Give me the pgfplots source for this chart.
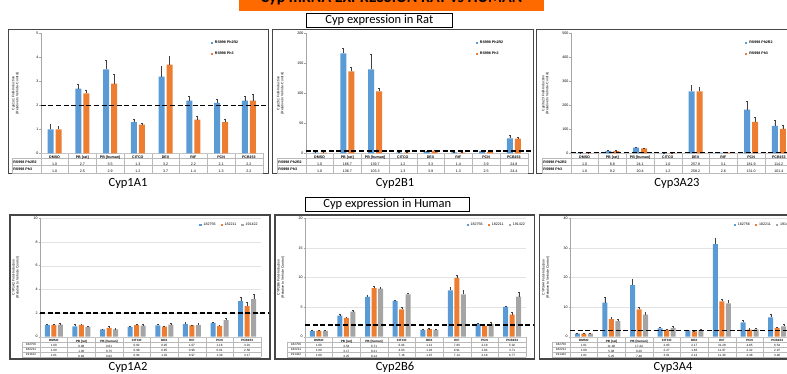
\documentclass[border=0pt]{standalone}
\usepackage{pgfplots}
\pgfplotsset{compat=1.18}
\usepackage{fontspec}
\setmainfont{Carlito}
\newfontfamily\arf{Liberation Sans}
\definecolor{cb}{HTML}{5B9BD5}
\definecolor{co}{HTML}{ED7D31}
\definecolor{cg}{HTML}{A5A5A5}
\definecolor{banner}{HTML}{FF6A00}
\newcommand\tickf{\arf\fontsize{3.6}{4.2}\selectfont}
\newcommand\tabf{\arf\fontsize{3.6}{7}\selectfont}
\newcommand\btabf{\arf\fontsize{3.1}{5}\selectfont}
\newcommand\labf{\arf\fontsize{3.4}{4.2}\selectfont}
\tikzset{dl/.style={black, line width=1.3pt, dash pattern=on 5pt off 2.6pt}}
\pgfplotsset{
 sq/.style={legend image code/.code={\fill[##1] (0pt,-1.1pt) rectangle (2.2pt,1.1pt);}},
 base/.style={scale only axis, anchor=south west, xmin=-0.5, xmax=7.5, ymin=0,
   enlargelimits=false, clip=false,
   axis x line*=bottom, axis y line*=left, axis line style={-},
   x axis line style={draw=gray!45, line width=0.3pt},
   y axis line style={draw=gray!70, line width=0.4pt},
   xtick={0,...,7}, xtick style={draw=none},
   ytick style={draw=gray!70, line width=0.4pt}, tick align=outside, major tick length=1.5pt,
   yticklabel style={font=\tickf, inner sep=0.6pt},
   /pgf/number format/assume math mode=true,
   ylabel style={font=\labf, align=center, anchor=south},
   legend style={draw=none, fill=none, font=\tickf, anchor=north west, inner sep=0pt,
     legend cell align=left},
 },
 rat/.style={base, width=222pt, height=120pt, bar width=6pt, ybar,
   xticklabel style={font=\tabf, align=center, inner sep=0pt, anchor=north, yshift=-1pt},
   ylabel style={at={(axis description cs:-0.081,0.5)}},
   legend style={at={(0.765,0.955)}, row sep=2.6pt}},
 hum/.style={base, width=221pt, height=118.4pt, bar width=5pt, ybar,
   ymajorgrids, grid style={gray!22, line width=0.3pt},
   xticklabel style={font=\btabf, align=center, inner sep=0pt, anchor=north, yshift=-1.4pt},
   ylabel style={at={(axis description cs:-0.077,0.5)}},
   legend columns=3,
   legend style={/tikz/every even column/.append style={column sep=3pt}}},
 eb/.style={error bars/.cd, y dir=plus, y explicit,
   error bar style={line width=0.35pt, black!75},
   error mark options={rotate=90, mark size=0.9pt, black!75, line width=0.35pt}},
}
\newcommand\rattable[1]{%
 \begin{scope}[x=1pt,y=-1pt]
  \draw[gray!55, line width=0.3pt] (#1-28.5,158.3) -- (#1+222,158.3)
     (#1-28.5,165.6) -- (#1+222,165.6) (#1-28.5,172.7) -- (#1+222,172.7)
     (#1-28.5,158.3) -- (#1-28.5,172.7);
  \foreach \j in {0,...,8} \draw[gray!55, line width=0.3pt] ({#1+\j*27.75},153.3) -- ({#1+\j*27.75},172.7);
  \node[anchor=west, font=\tabf, inner sep=0pt] at (#1-27.5,162.1) {\textbf{RS998 Ph2R2}};
  \node[anchor=west, font=\tabf, inner sep=0pt] at (#1-27.5,169.2) {\textbf{RS998 Ph3}};
 \end{scope}}
\newcommand\humtable[1]{%
 \begin{scope}[x=1pt,y=-1pt]
  \draw[gray!55, line width=0.3pt] (#1-18,341.7) -- (#1+221,341.7)
     (#1-18,346.7) -- (#1+221,346.7) (#1-18,351.7) -- (#1+221,351.7)
     (#1-18,356.7) -- (#1+221,356.7) (#1-18,341.7) -- (#1-18,356.7);
  \foreach \j in {0,...,8} \draw[gray!55, line width=0.3pt] ({#1+\j*27.625},336.7) -- ({#1+\j*27.625},356.7);
  \node[font=\btabf, inner sep=0pt] at (#1-9,344.2) {182756};
  \node[font=\btabf, inner sep=0pt] at (#1-9,349.2) {182211};
  \node[font=\btabf, inner sep=0pt] at (#1-9,354.2) {191422};
 \end{scope}}
\begin{document}
\begin{tikzpicture}
\useasboundingbox (0pt,0pt) rectangle (787pt,-374pt);
% ---------- decorations ----------
\begin{scope}[x=1pt,y=-1pt]
 \begin{scope}
  \clip (0,0) rectangle (787,374);
  \fill[banner] (239,-12) rectangle (544,10.7);
  \node[anchor=base, font=\bfseries\fontsize{16}{18}\selectfont, inner sep=0pt] at (391.5,2.6) {Cyp mRNA EXPRESSION RAT vs HUMAN};
 \end{scope}
 \draw[line width=0.8pt] (306,13.3) rectangle (452.7,27.3);
 \node[font=\fontsize{12.5}{14}\selectfont] at (379.3,20.1) {Cyp expression in Rat};
 \draw[line width=0.8pt] (305.7,197.3) rectangle (469,211);
 \node[font=\fontsize{12.5}{14}\selectfont] at (387.3,204) {Cyp expression in Human};
 \draw[line width=1.2pt, gray!55!black] (8.5,29.5) rectangle (268.5,173.5);
 \draw[line width=1.2pt, gray!55!black] (272.5,29.5) rectangle (533.5,173.5);
 \draw[line width=1.2pt, gray!55!black] (536.5,29.5) rectangle (800,173.5);
 \draw[line width=1.2pt, gray!55!black] (10,215) rectangle (270,359);
 \draw[line width=1.2pt, gray!55!black] (275,215) rectangle (534.5,359);
 \draw[line width=1.2pt, gray!55!black] (539.5,215) rectangle (800,359);
 \node[font=\fontsize{12.5}{14}\selectfont] at (128,183) {Cyp1A1};
 \node[font=\fontsize{12.5}{14}\selectfont] at (395,183) {Cyp2B1};
 \node[font=\fontsize{12.5}{14}\selectfont] at (677,183) {Cyp3A23};
 \node[font=\fontsize{12.5}{14}\selectfont] at (128,367.5) {Cyp1A2};
 \node[font=\fontsize{12.5}{14}\selectfont] at (395,367.5) {Cyp2B6};
 \node[font=\fontsize{12.5}{14}\selectfont] at (673,367.5) {Cyp3A4};
\end{scope}
\rattable{40.7}\rattable{305.7}\rattable{570.7}
\humtable{40}\humtable{305}\humtable{570}
% ---------- Cyp1A1 ----------
\begin{axis}[rat, at={(40.7pt,-153.3pt)}, ymax=5, ytick={0,1,2,3,4,5},
  ylabel={Cyp1a1 Fold-Induction\\(Relative to Vehicle-Control)},
  xticklabels={{\textbf{DMSO}\\1.0\\1.0},{\textbf{PB [rat]}\\2.7\\2.5},{\textbf{PB [human]}\\3.5\\2.9},{\textbf{CITCO}\\1.3\\1.2},{\textbf{DEX}\\3.2\\3.7},{\textbf{RIF}\\2.2\\1.4},{\textbf{PCN}\\2.1\\1.3},{\textbf{PCB153}\\2.2\\2.2}}]
\addplot[fill=cb, draw=none, forget plot, bar shift=-4pt, eb] coordinates {(0,1.0)+-(0,0.21) (1,2.7)+-(0,0.18) (2,3.5)+-(0,0.39) (3,1.3)+-(0,0.14) (4,3.2)+-(0,0.41) (5,2.2)+-(0,0.18) (6,2.1)+-(0,0.16) (7,2.2)+-(0,0.2)};
\addplot[fill=co, draw=none, forget plot, bar shift=4pt, eb] coordinates {(0,1.0)+-(0,0.12) (1,2.5)+-(0,0.15) (2,2.9)+-(0,0.38) (3,1.2)+-(0,0.04) (4,3.7)+-(0,0.33) (5,1.4)+-(0,0.14) (6,1.3)+-(0,0.14) (7,2.2)+-(0,0.28)};
\addlegendimage{sq, fill=cb, draw=none}\addlegendentry{\textbf{RS998 Ph2R2}}
\addlegendimage{sq, fill=co, draw=none}\addlegendentry{\textbf{RS998 Ph3}}
\draw[dl] (axis cs:-0.5,2) -- ([xshift=6pt]axis cs:7.5,2);
\end{axis}
% ---------- Cyp2B1 ----------
\begin{axis}[rat, at={(305.7pt,-153.3pt)}, ymax=200, ytick={0,50,100,150,200},
  ylabel={Cyp2b1 Fold-Induction\\(Relative to Vehicle-Control)},
  xticklabels={{\textbf{DMSO}\\1.0\\1.0},{\textbf{PB [rat]}\\166.7\\136.7},{\textbf{PB [human]}\\139.7\\103.3},{\textbf{CITCO}\\1.2\\1.3},{\textbf{DEX}\\3.3\\3.9},{\textbf{RIF}\\1.4\\1.3},{\textbf{PCN}\\3.9\\2.5},{\textbf{PCB153}\\24.8\\24.4}}]
\addplot[fill=cb, draw=none, forget plot, bar shift=-4pt, eb] coordinates {(0,1.0)+-(0,0.5) (1,166.7)+-(0,8) (2,139.7)+-(0,25) (3,1.2)+-(0,0.5) (4,3.3)+-(0,1) (5,1.4)+-(0,0.5) (6,3.9)+-(0,2) (7,24.8)+-(0,6)};
\addplot[fill=co, draw=none, forget plot, bar shift=4pt, eb] coordinates {(0,1.0)+-(0,0.5) (1,136.7)+-(0,7) (2,103.3)+-(0,6) (3,1.3)+-(0,0.5) (4,3.9)+-(0,1) (5,1.3)+-(0,0.5) (6,2.5)+-(0,1) (7,24.4)+-(0,3)};
\addlegendimage{sq, fill=cb, draw=none}\addlegendentry{\textbf{RS998 Ph2R2}}
\addlegendimage{sq, fill=co, draw=none}\addlegendentry{\textbf{RS998 Ph3}}
\draw[dl] (axis cs:-0.5,4) -- ([xshift=6pt]axis cs:7.5,4);
\end{axis}
% ---------- Cyp3A23 ----------
\begin{axis}[rat, at={(570.7pt,-153.3pt)}, ymax=500, ytick={0,100,200,300,400,500},
  ylabel={Cyp3a23 Fold-Induction\\(Relative to Vehicle-Control)},
  legend style={at={(0.785,0.955)}},
  xticklabels={{\textbf{DMSO}\\1.0\\1.0},{\textbf{PB [rat]}\\8.8\\9.2},{\textbf{PB [human]}\\24.1\\20.4},{\textbf{CITCO}\\1.0\\1.2},{\textbf{DEX}\\257.8\\258.2},{\textbf{RIF}\\3.1\\2.6},{\textbf{PCN}\\181.9\\131.0},{\textbf{PCB153}\\114.2\\101.4}}]
\addplot[fill=cb, draw=none, forget plot, bar shift=-4pt, eb] coordinates {(0,1.0)+-(0,0.5) (1,8.8)+-(0,3) (2,24.1)+-(0,3) (3,1.0)+-(0,0.5) (4,257.8)+-(0,27) (5,3.1)+-(0,1) (6,181.9)+-(0,36) (7,114.2)+-(0,22)};
\addplot[fill=co, draw=none, forget plot, bar shift=4pt, eb] coordinates {(0,1.0)+-(0,0.5) (1,9.2)+-(0,2) (2,20.4)+-(0,3) (3,1.2)+-(0,0.5) (4,258.2)+-(0,17) (5,2.6)+-(0,1) (6,131.0)+-(0,19) (7,101.4)+-(0,14)};
\addlegendimage{sq, fill=cb, draw=none}\addlegendentry{\textbf{RS998 Ph2R2}}
\addlegendimage{sq, fill=co, draw=none}\addlegendentry{\textbf{RS998 Ph3}}
\draw[dl] (axis cs:-0.5,2) -- ([xshift=6pt]axis cs:7.5,2);
\end{axis}
% ---------- Cyp1A2 ----------
\begin{axis}[hum, at={(40pt,-336.7pt)}, ymax=10, ytick={0,2,4,6,8,10},
  ylabel={CYP1A2 Fold-Induction\\(Relative to Vehicle Control)},
  legend style={at={(0.72,0.978)}},
  xticklabels={{\textbf{DMSO}\\1.00\\1.00\\1.01},{\textbf{PB [rat]}\\0.88\\1.00\\0.82},{\textbf{PB [human]}\\0.61\\0.75\\0.62},{\textbf{CITCO}\\0.82\\0.98\\0.94},{\textbf{DEX}\\0.95\\0.85\\1.02},{\textbf{RIF}\\1.07\\0.96\\0.97},{\textbf{PCN}\\1.16\\0.91\\1.39},{\textbf{PCB153}\\3.01\\2.58\\3.17}}]
\addplot[fill=cb, draw=none, forget plot, bar shift=-6.5pt, eb] coordinates {(0,1.00)+-(0,0.1) (1,0.88)+-(0,0.15) (2,0.61)+-(0,0.05) (3,0.82)+-(0,0.05) (4,0.95)+-(0,0.12) (5,1.07)+-(0,0.12) (6,1.16)+-(0,0.08) (7,3.01)+-(0,0.37)};
\addplot[fill=co, draw=none, forget plot, bar shift=0pt, eb] coordinates {(0,1.00)+-(0,0.08) (1,1.00)+-(0,0.1) (2,0.75)+-(0,0.1) (3,0.98)+-(0,0.08) (4,0.85)+-(0,0.05) (5,0.96)+-(0,0.05) (6,0.91)+-(0,0.05) (7,2.58)+-(0,0.3)};
\addplot[fill=cg, draw=none, forget plot, bar shift=6.5pt, eb] coordinates {(0,1.01)+-(0,0.1) (1,0.82)+-(0,0.05) (2,0.62)+-(0,0.06) (3,0.94)+-(0,0.08) (4,1.02)+-(0,0.1) (5,0.97)+-(0,0.15) (6,1.39)+-(0,0.15) (7,3.17)+-(0,0.44)};
\addlegendimage{sq, fill=cb, draw=none}\addlegendentry{182756}
\addlegendimage{sq, fill=co, draw=none}\addlegendentry{182211}
\addlegendimage{sq, fill=cg, draw=none}\addlegendentry{191422}
\draw[dl] (axis cs:-0.5,2) -- ([xshift=8pt]axis cs:7.5,2);
\end{axis}
% ---------- Cyp2B6 ----------
\begin{axis}[hum, at={(305pt,-336.7pt)}, ymax=20, ytick={0,5,10,15,20},
  ylabel={CYP2B6 Fold-Induction\\(Relative to Vehicle Control)},
  legend style={at={(0.73,0.978)}},
  xticklabels={{\textbf{DMSO}\\1.00\\1.00\\1.00},{\textbf{PB [rat]}\\3.54\\3.17\\4.25},{\textbf{PB [human]}\\6.71\\8.21\\8.14},{\textbf{CITCO}\\6.04\\4.63\\7.16},{\textbf{DEX}\\1.12\\1.26\\1.15},{\textbf{RIF}\\7.83\\9.91\\7.14},{\textbf{PCN}\\2.18\\1.84\\2.18},{\textbf{PCB153}\\5.02\\3.71\\6.77}}]
\addplot[fill=cb, draw=none, forget plot, bar shift=-6.5pt, eb] coordinates {(0,1.00)+-(0,0.15) (1,3.54)+-(0,0.2) (2,6.71)+-(0,0.3) (3,6.04)+-(0,0.2) (4,1.12)+-(0,0.1) (5,7.83)+-(0,0.5) (6,2.18)+-(0,0.1) (7,5.02)+-(0,0.2)};
\addplot[fill=co, draw=none, forget plot, bar shift=0pt, eb] coordinates {(0,1.00)+-(0,0.1) (1,3.17)+-(0,0.2) (2,8.21)+-(0,0.4) (3,4.63)+-(0,0.3) (4,1.26)+-(0,0.1) (5,9.91)+-(0,0.5) (6,1.84)+-(0,0.1) (7,3.71)+-(0,0.5)};
\addplot[fill=cg, draw=none, forget plot, bar shift=6.5pt, eb] coordinates {(0,1.00)+-(0,0.1) (1,4.25)+-(0,0.2) (2,8.14)+-(0,0.3) (3,7.16)+-(0,0.2) (4,1.15)+-(0,0.1) (5,7.14)+-(0,0.7) (6,2.18)+-(0,0.2) (7,6.77)+-(0,0.7)};
\addlegendimage{sq, fill=cb, draw=none}\addlegendentry{182756}
\addlegendimage{sq, fill=co, draw=none}\addlegendentry{182211}
\addlegendimage{sq, fill=cg, draw=none}\addlegendentry{191422}
\draw[dl] (axis cs:-0.5,2) -- ([xshift=8pt]axis cs:7.5,2);
\end{axis}
% ---------- Cyp3A4 ----------
\begin{axis}[hum, at={(570pt,-336.7pt)}, ymax=40, ytick={0,10,20,30,40},
  ylabel={CYP3A4 Fold-Induction\\(Relative to Vehicle Control)},
  legend style={at={(0.74,0.978)}},
  xticklabels={{\textbf{DMSO}\\1.01\\1.00\\1.01},{\textbf{PB [rat]}\\11.48\\5.98\\5.25},{\textbf{PB [human]}\\17.44\\9.26\\7.48},{\textbf{CITCO}\\2.83\\2.27\\3.01},{\textbf{DEX}\\2.17\\1.83\\2.13},{\textbf{RIF}\\31.28\\11.97\\11.30},{\textbf{PCN}\\4.85\\2.42\\2.48},{\textbf{PCB153}\\6.54\\2.97\\3.48}}]
\addplot[fill=cb, draw=none, forget plot, bar shift=-6.5pt, eb] coordinates {(0,1.01)+-(0,0.3) (1,11.48)+-(0,2) (2,17.44)+-(0,1.9) (3,2.83)+-(0,0.3) (4,2.17)+-(0,0.2) (5,31.28)+-(0,2) (6,4.85)+-(0,0.8) (7,6.54)+-(0,1)};
\addplot[fill=co, draw=none, forget plot, bar shift=0pt, eb] coordinates {(0,1.00)+-(0,0.2) (1,5.98)+-(0,0.7) (2,9.26)+-(0,0.7) (3,2.27)+-(0,0.3) (4,1.83)+-(0,0.2) (5,11.97)+-(0,0.6) (6,2.42)+-(0,0.3) (7,2.97)+-(0,0.4)};
\addplot[fill=cg, draw=none, forget plot, bar shift=6.5pt, eb] coordinates {(0,1.01)+-(0,0.2) (1,5.25)+-(0,0.6) (2,7.48)+-(0,0.8) (3,3.01)+-(0,0.5) (4,2.13)+-(0,0.3) (5,11.30)+-(0,1) (6,2.48)+-(0,0.3) (7,3.48)+-(0,0.6)};
\addlegendimage{sq, fill=cb, draw=none}\addlegendentry{182756}
\addlegendimage{sq, fill=co, draw=none}\addlegendentry{182211}
\addlegendimage{sq, fill=cg, draw=none}\addlegendentry{191422}
\draw[dl] (axis cs:-0.5,2) -- ([xshift=8pt]axis cs:7.5,2);
\end{axis}
\end{tikzpicture}
\end{document}
